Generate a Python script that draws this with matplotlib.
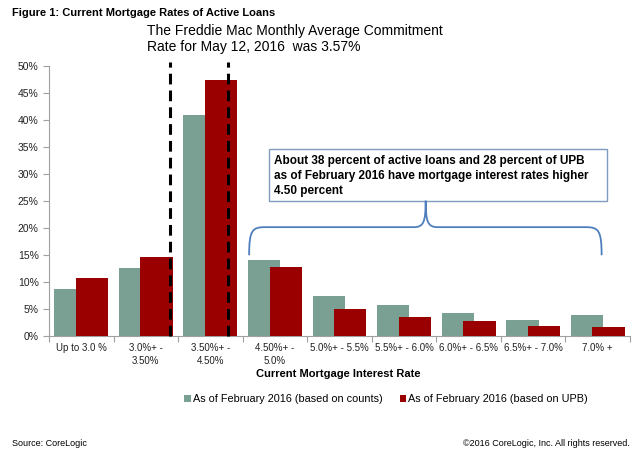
import matplotlib
matplotlib.use("Agg")
import matplotlib.pyplot as plt
from matplotlib.patches import Rectangle, Patch
from matplotlib.path import Path
from matplotlib.patches import PathPatch
from matplotlib.ticker import FuncFormatter

plt.rcParams['font.family'] = ['Liberation Sans', 'DejaVu Sans']

categories = ["Up to 3.0 %", "3.0%+ -\n3.50%", "3.50%+ -\n4.50%", "4.50%+ -\n5.0%",
              "5.0%+ - 5.5%", "5.5%+ - 6.0%", "6.0%+ - 6.5%", "6.5%+ - 7.0%", "7.0% +"]
counts = [8.6, 12.5, 40.9, 14.1, 7.3, 5.7, 4.2, 2.9, 3.9]
upb = [10.7, 14.6, 47.3, 12.7, 5.0, 3.5, 2.8, 1.8, 1.7]

teal = "#7aa093"
red = "#9b0000"

fig = plt.figure(figsize=(6.4, 4.51), dpi=100)
ax = fig.add_axes([0.0766, 0.2557, 0.9078, 0.5986])

x = list(range(len(categories)))
w = 0.5
off = 0.167
ax.bar([i - off for i in x], counts, width=w, color=teal, zorder=2)
ax.bar([i + off for i in x], upb, width=w, color=red, zorder=3)

ax.set_xlim(-0.5, 8.5)
ax.set_ylim(0, 50)
ax.set_yticks(range(0, 51, 5))
ax.yaxis.set_major_formatter(FuncFormatter(lambda v, p: f"{int(v)}%"))
ax.set_xticks(x)
ax.set_xticklabels(categories, fontsize=7, color="#222222", linespacing=1.45)
ax.set_xticks([i - 0.5 for i in range(10)], minor=True)
ax.tick_params(axis='x', which='major', length=0, pad=5)
ax.tick_params(axis='x', which='minor', length=4, color="#a0a0a0", width=0.8)
ax.tick_params(axis='y', length=4, color="#a0a0a0", width=0.8, labelsize=7.5, labelcolor="#222222")
for s in ["top", "right"]:
    ax.spines[s].set_visible(False)
for s in ["left", "bottom"]:
    ax.spines[s].set_color("#a0a0a0")
    ax.spines[s].set_linewidth(0.8)

# dashed lines
for xv in [1.367, 2.275]:
    ax.plot([xv, xv], [0, 50.7], color="black", lw=2.2, dashes=(3.5, 2), zorder=4, clip_on=False)

# annotation box
ax.add_patch(Rectangle((2.91, 24.9), 8.14 - 2.91, 34.5 - 24.9, facecolor="white",
                       edgecolor="#7f9cc0", lw=1.0, zorder=5))
ax.text(2.99, 33.4, "About 38 percent of active loans and 28 percent of UPB\n"
        "as of February 2016 have mortgage interest rates higher\n4.50 percent",
        fontsize=8.5, fontweight="bold", va="top", ha="left", linespacing=1.3, zorder=6)

# brace
verts = [(2.60, 14.9), (2.60, 19.6), (2.65, 20.1), (2.85, 20.1),
         (5.15, 20.1),
         (5.30, 20.1), (5.335, 21.0), (5.335, 25.0),
         (5.335, 21.0), (5.37, 20.1), (5.52, 20.1),
         (7.81, 20.1),
         (8.01, 20.1), (8.06, 19.6), (8.06, 14.9)]
codes = [Path.MOVETO, Path.CURVE4, Path.CURVE4, Path.CURVE4,
         Path.LINETO,
         Path.CURVE4, Path.CURVE4, Path.CURVE4,
         Path.CURVE4, Path.CURVE4, Path.CURVE4,
         Path.LINETO,
         Path.CURVE4, Path.CURVE4, Path.CURVE4]
ax.add_patch(PathPatch(Path(verts, codes), facecolor="none", edgecolor="#4f7fbf", lw=1.3, zorder=5))

# texts
fig.text(12 / 640, 1 - 13 / 451, "Figure 1: Current Mortgage Rates of Active Loans",
         fontsize=8, fontweight="bold", va="center", ha="left")
fig.text(147 / 640, 1 - 39 / 451, "The Freddie Mac Monthly Average Commitment\nRate for May 12, 2016  was 3.57%",
         fontsize=10, va="center", ha="left", linespacing=1.25)
fig.text(338 / 640, 1 - 374 / 451, "Current Mortgage Interest Rate", fontsize=8,
         fontweight="bold", ha="center", va="center")

handles = [Patch(facecolor=teal), Patch(facecolor=red)]
fig.legend(handles, ["As of February 2016 (based on counts)", "As of February 2016 (based on UPB)"],
           loc="center", bbox_to_anchor=(386 / 640, 1 - 399 / 451), ncol=2, frameon=False,
           fontsize=7.8, handlelength=0.6, handleheight=0.6, handletextpad=0.2, columnspacing=1.6)

fig.text(12 / 640, 1 - 443 / 451, "Source: CoreLogic", fontsize=6.5, va="center", ha="left")
fig.text(630 / 640, 1 - 443 / 451, "\u00a92016 CoreLogic, Inc. All rights reserved.", fontsize=6.5,
         va="center", ha="right")

fig.savefig("out.png", dpi=100)
